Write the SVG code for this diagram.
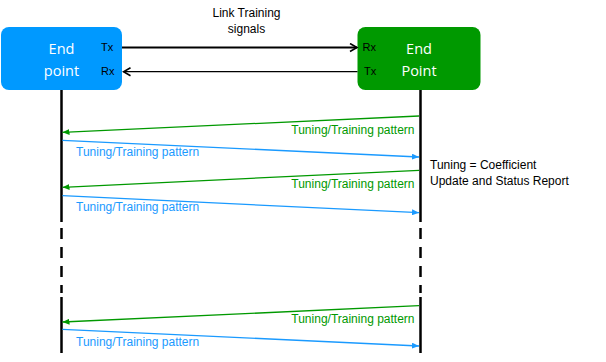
<svg xmlns="http://www.w3.org/2000/svg" width="606" height="362" viewBox="0 0 606 362">
<defs>
<style>
.t{font-family:"Liberation Sans",Arial,sans-serif;}
.box{font-family:"Open Sans","Liberation Sans",sans-serif;font-size:14.5px;fill:#fff;text-anchor:middle;}
.port{font-size:11px;fill:#000;}
.lbl{font-size:12px;}
.gr{fill:#009900;}
.bl{fill:#1A9AFF;}
.life{stroke:#000;stroke-width:2.5;fill:none;}
.ga{stroke:#009900;stroke-width:1.3;fill:none;marker-end:url(#tg);}
.ba{stroke:#1A9AFF;stroke-width:1.3;fill:none;marker-end:url(#tb);}
</style>
<marker id="chev" markerUnits="userSpaceOnUse" markerWidth="10" markerHeight="10" refX="8" refY="5" orient="auto">
<path d="M1,1 L8,5 L1,9" fill="none" stroke="#000" stroke-width="1.6"/>
</marker>
<marker id="tg" markerUnits="userSpaceOnUse" markerWidth="8" markerHeight="6" refX="7" refY="3" orient="auto">
<path d="M0,0 L7,3 L0,6 z" fill="#009900"/>
</marker>
<marker id="tb" markerUnits="userSpaceOnUse" markerWidth="8" markerHeight="6" refX="7" refY="3" orient="auto">
<path d="M0,0 L7,3 L0,6 z" fill="#1A9AFF"/>
</marker>
</defs>
<rect width="606" height="362" fill="#fff"/>

<g id="endpoint-left">
<rect x="1" y="27" width="121" height="63" rx="8" fill="#0099FF"/>
<text class="box" x="61.5" y="54">End</text>
<text class="box" x="61.5" y="76">point</text>
<text class="t port" x="101" y="51">Tx</text>
<text class="t port" x="101" y="75">Rx</text>
</g>

<g id="endpoint-right">
<rect x="357.5" y="27" width="123" height="63" rx="8" fill="#009900"/>
<text class="box" x="419" y="54">End</text>
<text class="box" x="419" y="76">Point</text>
<text class="t port" x="362.5" y="51">Rx</text>
<text class="t port" x="364" y="75">Tx</text>
</g>

<g id="link-label">
<text class="t lbl" x="246.5" y="17" text-anchor="middle">Link Training</text>
<text class="t lbl" x="246.5" y="33" text-anchor="middle">signals</text>
</g>

<g id="note">
<text class="t lbl" x="430" y="169">Tuning = Coefficient</text>
<text class="t lbl" x="430" y="185">Update and Status Report</text>
</g>

<g id="lifelines">
<line class="life" x1="61.5" y1="90" x2="61.5" y2="222"/>
<line class="life" x1="61.5" y1="228" x2="61.5" y2="293" stroke-dasharray="11 8"/>
<line class="life" x1="61.5" y1="297" x2="61.5" y2="353"/>
<line class="life" x1="420.5" y1="90" x2="420.5" y2="222"/>
<line class="life" x1="420.5" y1="228" x2="420.5" y2="293" stroke-dasharray="11 8"/>
<line class="life" x1="420.5" y1="297" x2="420.5" y2="353"/>
</g>

<g id="connectors">
<line x1="122" y1="47.5" x2="357" y2="47.5" stroke="#000" stroke-width="2" marker-end="url(#chev)"/>
<line x1="357.5" y1="71.7" x2="123.5" y2="71.7" stroke="#000" stroke-width="1.3" marker-end="url(#chev)"/>

<line class="ga" x1="419" y1="116" x2="62.5" y2="132.3"/>
<line class="ba" x1="62.5" y1="140.3" x2="419" y2="157"/>
<line class="ga" x1="419" y1="170.3" x2="62.5" y2="187.3"/>
<line class="ba" x1="62.5" y1="195.7" x2="419" y2="212.7"/>
<line class="ga" x1="419" y1="305.7" x2="62.5" y2="322"/>
<line class="ba" x1="62.5" y1="329.3" x2="419" y2="346"/>
</g>

<g id="pattern-labels">
<text class="t lbl gr" x="414.5" y="134" text-anchor="end">Tuning/Training pattern</text>
<text class="t lbl bl" x="76" y="156">Tuning/Training pattern</text>
<text class="t lbl gr" x="414.5" y="188" text-anchor="end">Tuning/Training pattern</text>
<text class="t lbl bl" x="76" y="211">Tuning/Training pattern</text>
<text class="t lbl gr" x="414.5" y="323" text-anchor="end">Tuning/Training pattern</text>
<text class="t lbl bl" x="76" y="346">Tuning/Training pattern</text>
</g>
</svg>
